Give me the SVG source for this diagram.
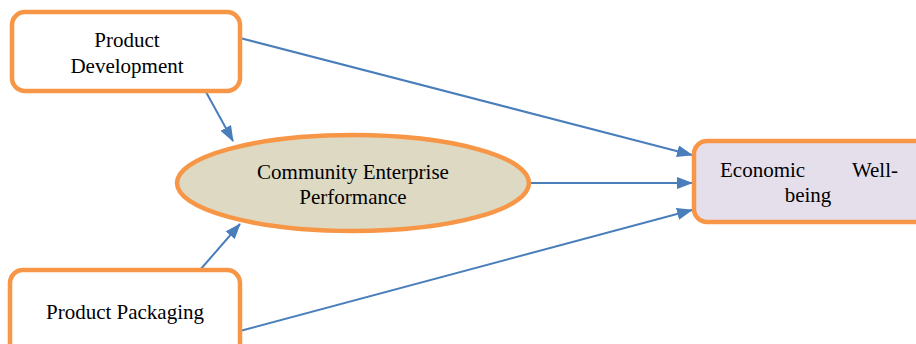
<svg xmlns="http://www.w3.org/2000/svg" width="916" height="344" viewBox="0 0 916 344">
<defs>
<style>
.box{stroke:#F79646;stroke-width:4.5}
.t{font-family:'Liberation Serif','Times New Roman','DejaVu Serif',serif;font-size:21px;fill:#000}
.c{stroke:#4A7EBB;stroke-width:2;fill:none}
</style>
<marker id="ah" markerUnits="userSpaceOnUse" markerWidth="16" markerHeight="12" refX="15" refY="6" orient="auto">
<path d="M0,0 L16,6 L0,12 Z" fill="#4A7EBB"/>
</marker>
</defs>
<rect width="916" height="344" fill="#fff"/>
<g id="connectors">
<line class="c" x1="240" y1="38" x2="692" y2="155" marker-end="url(#ah)"/>
<line class="c" x1="529" y1="183" x2="692" y2="183" marker-end="url(#ah)"/>
<line class="c" x1="240" y1="331" x2="692" y2="210" marker-end="url(#ah)"/>
<line class="c" x1="206" y1="92" x2="233" y2="141" marker-end="url(#ah)"/>
<line class="c" x1="200" y1="270" x2="240" y2="224" marker-end="url(#ah)"/>
</g>
<g id="product-development">
<rect class="box" x="12" y="12" width="228" height="79" rx="13" fill="#fff"/>
<text class="t" x="127" y="47" text-anchor="middle">Product</text>
<text class="t" x="127" y="73" text-anchor="middle">Development</text>
</g>
<g id="community-enterprise">
<ellipse class="box" cx="353" cy="183" rx="176" ry="48" fill="#DDD9C3"/>
<text class="t" x="353" y="179" text-anchor="middle">Community Enterprise</text>
<text class="t" x="353" y="204" text-anchor="middle">Performance</text>
</g>
<g id="economic-wellbeing">
<rect class="box" x="694" y="141" width="240" height="81" rx="13" fill="#E5DFEC"/>
<text class="t" x="720" y="177">Economic</text>
<text class="t" x="898" y="177" text-anchor="end">Well-</text>
<text class="t" x="808" y="202" text-anchor="middle">being</text>
</g>
<g id="product-packaging">
<rect class="box" x="10" y="270" width="230" height="100" rx="13" fill="#fff"/>
<text class="t" x="125" y="319" text-anchor="middle">Product Packaging</text>
</g>
</svg>
